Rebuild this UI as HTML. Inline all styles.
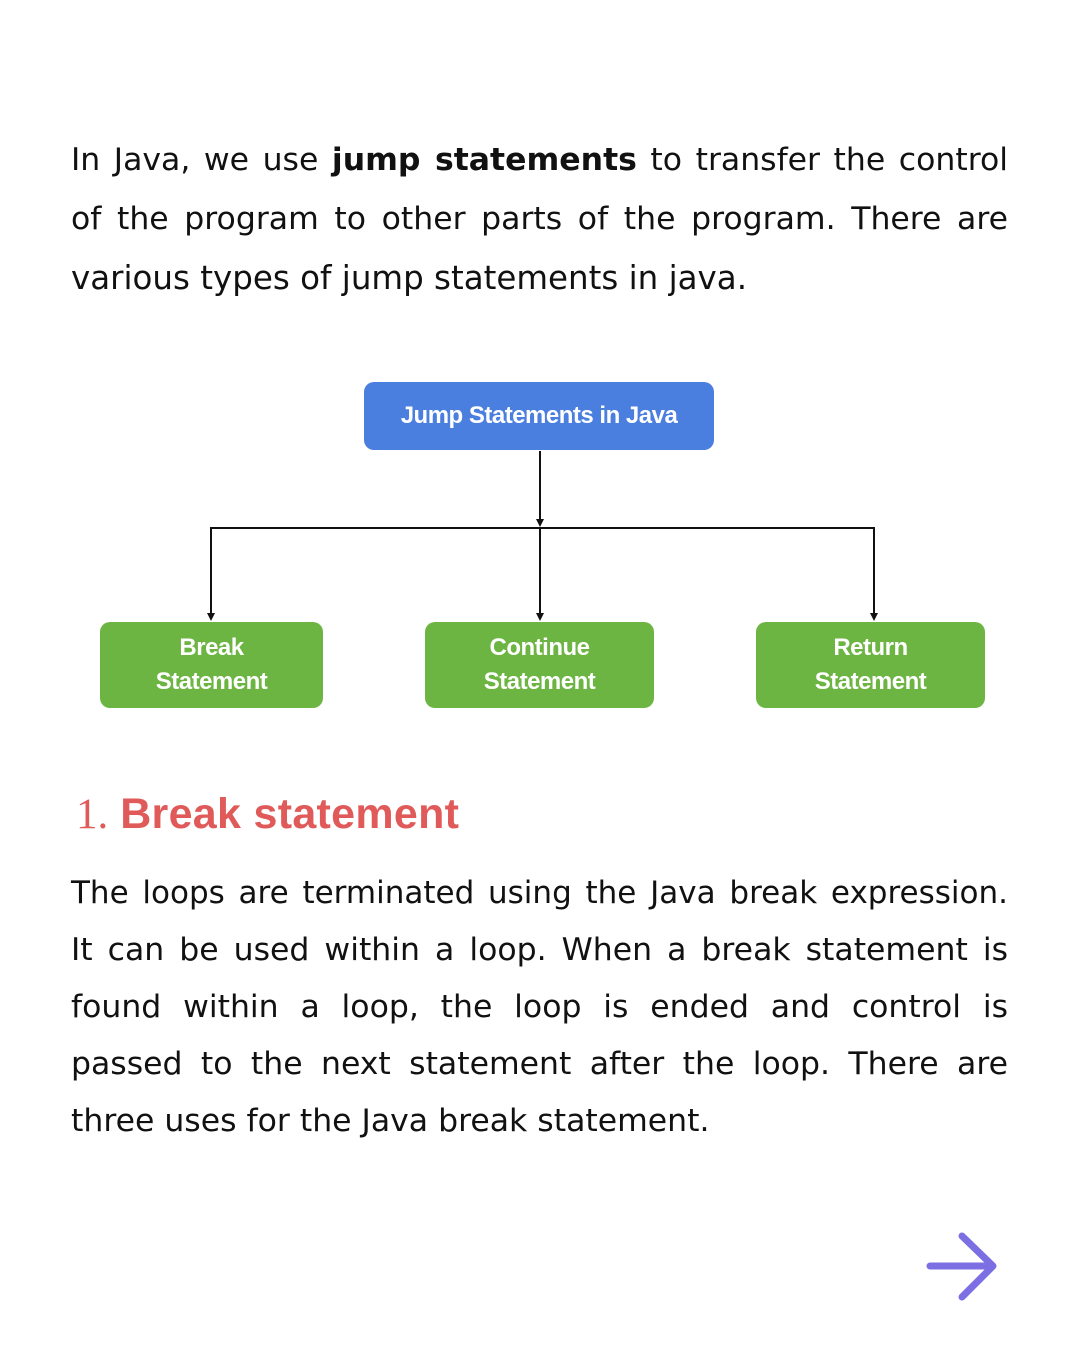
<!DOCTYPE html>
<html><head><meta charset="utf-8"><style>
body{margin:0;width:1080px;height:1347px;background:#fff;position:relative;overflow:hidden;font-family:"DejaVu Sans","Liberation Sans",sans-serif;color:#111;}
.l{position:absolute;left:71px;width:937px;font-size:31.5px;line-height:40px;white-space:nowrap;}
.j{text-align:justify;text-align-last:justify;white-space:normal;}
.box{position:absolute;border-radius:10px;color:#fff;font-weight:bold;display:flex;align-items:center;justify-content:center;text-align:center;font-size:24px;line-height:34px;letter-spacing:-0.5px;font-family:"Liberation Sans",sans-serif;}
.g{background:#6db543;top:622px;height:86px;}
</style></head><body>
<div class="l j" style="top:140px">In Java, we use <b>jump statements</b> to transfer the control</div>
<div class="l j" style="top:199px">of the program to other parts of the program. There are</div>
<div class="l" style="top:258px;font-size:32.5px">various types of jump statements in java.</div>

<div class="box" style="left:364px;top:382px;width:350px;height:68px;background:#4a7fdf;">Jump Statements in Java</div>
<div class="box g" style="left:100px;width:223px;">Break<br>Statement</div>
<div class="box g" style="left:425px;width:229px;">Continue<br>Statement</div>
<div class="box g" style="left:756px;width:229px;">Return<br>Statement</div>
<svg style="position:absolute;left:0;top:0" width="1080" height="1347">
<g stroke="#111" stroke-width="2" fill="none">
<line x1="540" y1="451" x2="540" y2="520"/>
<polyline points="211,614 211,528 874,528 874,614"/>
<line x1="540" y1="528" x2="540" y2="614"/>
</g>
<g fill="#111">
<polygon points="536,519 544,519 540,527"/>
<polygon points="207,613 215,613 211,621"/>
<polygon points="536,613 544,613 540,621"/>
<polygon points="870,613 878,613 874,621"/>
</g>
<g stroke="#7b6fe3" stroke-width="7" stroke-linecap="round" stroke-linejoin="round" fill="none">
<line x1="930" y1="1266" x2="992" y2="1266"/>
<polyline points="962,1236 993,1266 962,1297"/>
</g>
</svg>

<div style="position:absolute;left:76px;top:790px;font-size:43px;color:#e05a5a;white-space:nowrap;font-family:'Liberation Sans',sans-serif;"><span style="font-family:'Liberation Serif',serif;">1.</span> <b style="letter-spacing:0.3px">Break statement</b></div>

<div class="l j" style="top:873px;font-size:31px">The loops are terminated using the Java break expression.</div>
<div class="l j" style="top:930px">It can be used within a loop. When a break statement is</div>
<div class="l j" style="top:987px">found within a loop, the loop is ended and control is</div>
<div class="l j" style="top:1044px">passed to the next statement after the loop. There are</div>
<div class="l" style="top:1101px">three uses for the Java break statement.</div>
</body></html>
